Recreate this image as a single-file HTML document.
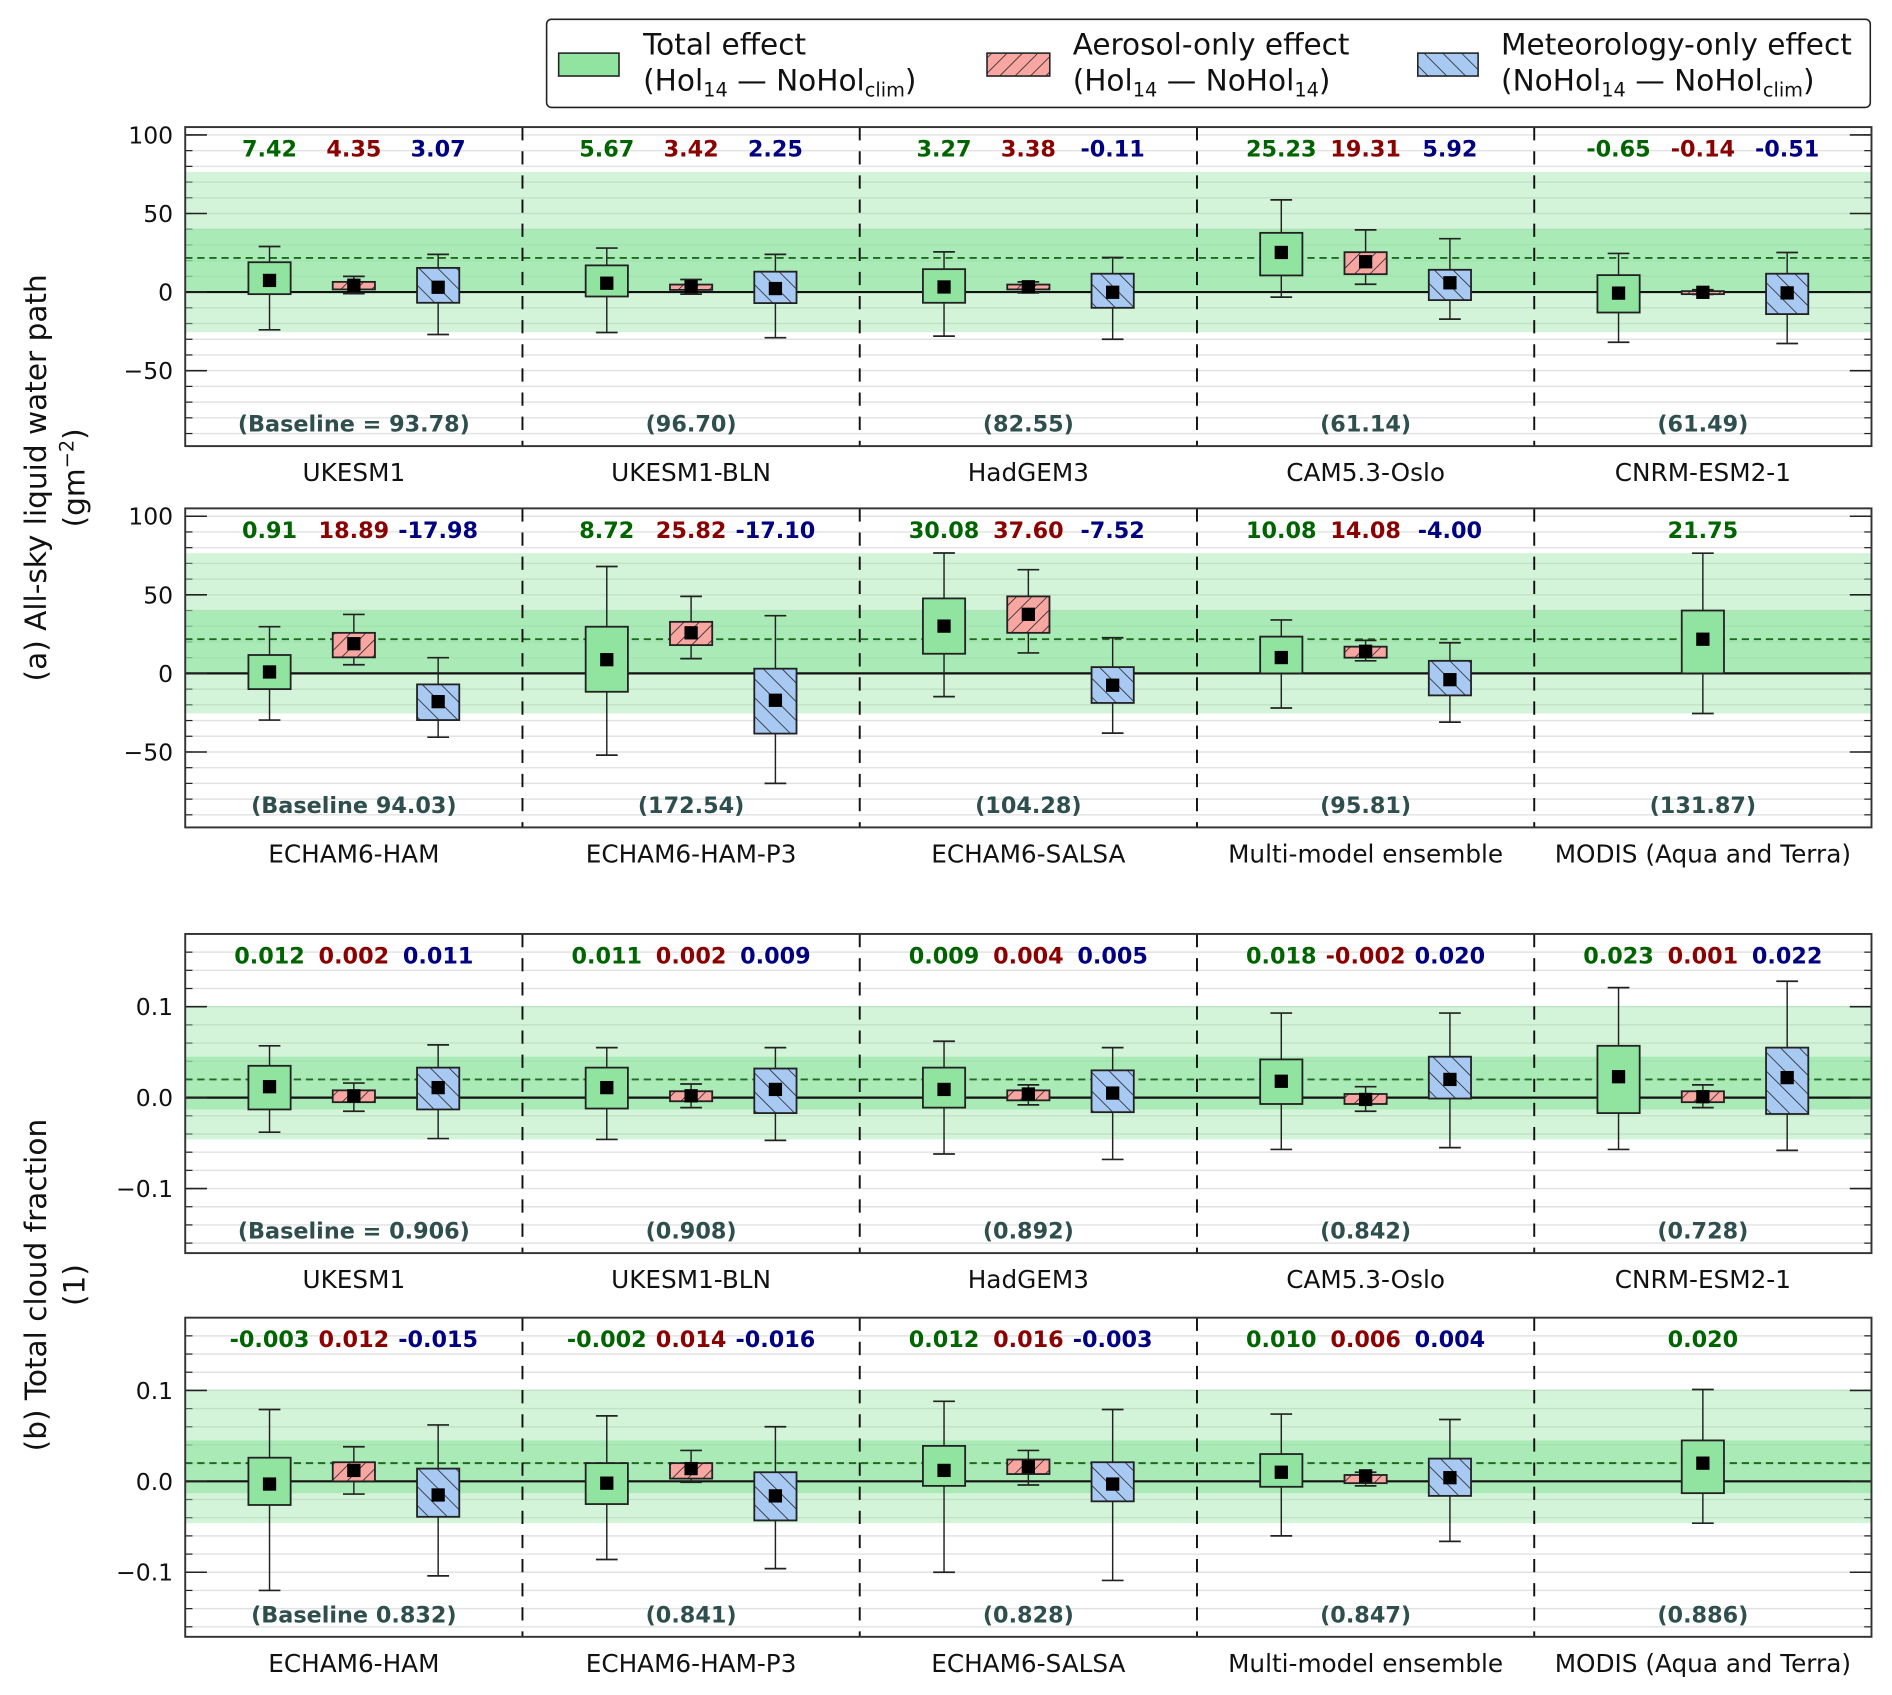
<!DOCTYPE html>
<html><head><meta charset="utf-8"><style>
html,body{margin:0;padding:0;background:#fff;}
svg{display:block;font-family:"DejaVu Sans","Liberation Sans",sans-serif;}
</style></head><body>
<svg id="chart" xmlns="http://www.w3.org/2000/svg" width="1892" height="1695" viewBox="0 0 1568 1404.7">
<defs>
<pattern id="hatchRed" patternUnits="userSpaceOnUse" width="9" height="9" patternTransform="rotate(45)">
<rect width="9" height="9" fill="#f7a6a1"/><line x1="0" y1="0" x2="0" y2="9" stroke="#222" stroke-width="1.3"/></pattern>
<pattern id="hatchBlue" patternUnits="userSpaceOnUse" width="11" height="11" patternTransform="rotate(-45)">
<rect width="11" height="11" fill="#a7c9f2"/><line x1="0" y1="0" x2="0" y2="11" stroke="#222" stroke-width="1.3"/></pattern>
</defs>
<g id="legend">
<rect x="453" y="16" width="1097" height="73" rx="4" fill="#fff" stroke="#222" stroke-width="1.3"/>
<rect x="463" y="44" width="50" height="19" fill="#90e4a0" stroke="#222" stroke-width="1.3"/>
<text x="533" y="45" font-size="24.5" fill="#111">Total effect</text>
<text x="533" y="75" font-size="24.5" fill="#111">(Hol<tspan font-size="16" dy="5">14</tspan><tspan dy="-5"> — NoHol</tspan><tspan font-size="16" dy="5">clim</tspan><tspan dy="-5">)</tspan></text>
<rect x="818" y="44" width="52" height="19" fill="url(#hatchRed)" stroke="#222" stroke-width="1.3"/>
<text x="889" y="45" font-size="24.5" fill="#111">Aerosol-only effect</text>
<text x="889" y="75" font-size="24.5" fill="#111">(Hol<tspan font-size="16" dy="5">14</tspan><tspan dy="-5"> — NoHol</tspan><tspan font-size="16" dy="5">14</tspan><tspan dy="-5">)</tspan></text>
<rect x="1175" y="44" width="50" height="19" fill="url(#hatchBlue)" stroke="#222" stroke-width="1.3"/>
<text x="1244" y="45" font-size="24.5" fill="#111">Meteorology-only effect</text>
<text x="1244" y="75" font-size="24.5" fill="#111">(NoHol<tspan font-size="16" dy="5">14</tspan><tspan dy="-5"> — NoHol</tspan><tspan font-size="16" dy="5">clim</tspan><tspan dy="-5">)</tspan></text>
</g>
<text transform="translate(38,396) rotate(-90)" text-anchor="middle" font-size="24.5" fill="#111">(a) All-sky liquid water path</text>
<text transform="translate(70,396) rotate(-90)" text-anchor="middle" font-size="24.5" fill="#111">(gm<tspan font-size="16" dy="-9">−2</tspan><tspan dy="9">)</tspan></text>
<text transform="translate(38,1065) rotate(-90)" text-anchor="middle" font-size="24.5" fill="#111">(b) Total cloud fraction</text>
<text transform="translate(70,1065) rotate(-90)" text-anchor="middle" font-size="24.5" fill="#111">(1)</text>
</svg>
<script>
// ---- data ----
const groupsTop = ['UKESM1','UKESM1-BLN','HadGEM3','CAM5.3-Oslo','CNRM-ESM2-1'];
const groupsBottom = ['ECHAM6-HAM','ECHAM6-HAM-P3','ECHAM6-SALSA','Multi-model ensemble','MODIS (Aqua and Terra)'];
const baselineA1 = ['(Baseline = 93.78)','(96.70)','(82.55)','(61.14)','(61.49)'];
const baselineA2 = ['(Baseline 94.03)','(172.54)','(104.28)','(95.81)','(131.87)'];
const baselineB1 = ['(Baseline = 0.906)','(0.908)','(0.892)','(0.842)','(0.728)'];
const baselineB2 = ['(Baseline 0.832)','(0.841)','(0.828)','(0.847)','(0.886)'];
// per column: [total, aerosol, meteorology]
const a1Mean = [7.42,4.35,3.07, 5.67,3.42,2.25, 3.27,3.38,-0.11, 25.23,19.31,5.92, -0.65,-0.14,-0.51];
const a1Q1   = [-1.3,1.7,-6.8, -2.8,1.4,-7, -6.8,1.7,-10, 10.6,11.4,-5.1, -13,-1.3,-14];
const a1Q3   = [19,6.5,15.4, 17,4.8,13, 14.6,4.8,11.7, 37.7,25.4,14.2, 10.8,0.6,11.7];
const a1Lo   = [-24,-1,-27, -25.7,-1.3,-29, -28,-0.5,-30, -3.2,5,-17.2, -31.9,-1.5,-32.7];
const a1Hi   = [29,10,24, 28,8,24, 25.6,6.5,22, 58.7,39.6,34, 24.6,1.5,25.2];
const a2Mean = [0.91,18.89,-17.98, 8.72,25.82,-17.10, 30.08,37.60,-7.52, 10.08,14.08,-4.00, 21.75,null,null];
const a2Q1   = [-10,10.2,-29.7, -11.7,18,-38.3, 12.5,25.8,-18.8, 0,10,-14, 0,null,null];
const a2Q3   = [11.7,25.8,-7, 29.7,32.8,3, 47.7,49,4, 23.4,17,8, 40,null,null];
const a2Lo   = [-29.7,5.5,-40.6, -52,9.4,-70, -14.8,13,-38, -22,8,-31, -25.5,null,null];
const a2Hi   = [29.7,37.5,10, 68,49,36.7, 76.6,66,22.7, 34,21,19.5, 76.5,null,null];
const b1Mean = [0.012,0.002,0.011, 0.011,0.002,0.009, 0.009,0.004,0.005, 0.018,-0.002,0.020, 0.023,0.001,0.022];
const b1Q1   = [-0.013,-0.005,-0.013, -0.012,-0.004,-0.017, -0.011,-0.003,-0.016, -0.007,-0.007,-0.001, -0.017,-0.005,-0.018];
const b1Q3   = [0.035,0.008,0.033, 0.033,0.007,0.032, 0.033,0.008,0.030, 0.042,0.004,0.045, 0.057,0.007,0.055];
const b1Lo   = [-0.038,-0.015,-0.045, -0.046,-0.011,-0.047, -0.062,-0.008,-0.068, -0.057,-0.015,-0.055, -0.057,-0.011,-0.058];
const b1Hi   = [0.057,0.016,0.058, 0.055,0.015,0.055, 0.062,0.014,0.055, 0.093,0.012,0.093, 0.121,0.014,0.128];
const b2Mean = [-0.003,0.012,-0.015, -0.002,0.014,-0.016, 0.012,0.016,-0.003, 0.010,0.006,0.004, 0.020,null,null];
const b2Q1   = [-0.026,0,-0.039, -0.025,0.003,-0.043, -0.005,0.008,-0.022, -0.006,-0.002,-0.016, -0.013,null,null];
const b2Q3   = [0.026,0.021,0.014, 0.020,0.020,0.010, 0.039,0.024,0.021, 0.030,0.007,0.025, 0.045,null,null];
const b2Lo   = [-0.12,-0.014,-0.104, -0.086,-0.001,-0.096, -0.10,-0.004,-0.109, -0.060,-0.005,-0.066, -0.046,null,null];
const b2Hi   = [0.079,0.038,0.062, 0.072,0.034,0.060, 0.088,0.034,0.079, 0.074,0.010,0.068, 0.101,null,null];
const ticksA = [-50,0,50,100];
const ticksB = [-0.1,0.0,0.1];
const tickLabelsA = ['−50','0','50','100'];
const tickLabelsB = ['−0.1','0.0','0.1'];

// ---- drawing ----
const NS='http://www.w3.org/2000/svg';
const svg=document.getElementById('chart');
function mk(tag,attrs,parent){const e=document.createElementNS(NS,tag);for(const k in attrs)e.setAttribute(k,attrs[k]);(parent||svg).appendChild(e);return e;}
const X0=153.5,X1=1551,CW=(X1-X0)/5;
const fills=['#90e4a0','url(#hatchRed)','url(#hatchBlue)'];
const valColors=['#006400','#8b0000','#000080'];
const modisIdx=12;

function panel(name,top,bot,vmax,vmin,groups,baselines,mean,q1,q3,lo,hi,ticks,tickLabels,minorStep,minorFrom,dec,bandSrc){
  const g=mk('g',{});
  
  
  const y=v=>top+(vmax-v)/(vmax-vmin)*(bot-top);
  for(let v=minorFrom;v<vmax-1e-9;v+=minorStep){
    const yy=y(v);
    const gl=mk('line',{x1:X0,x2:X1,y1:yy,y2:yy,stroke:'#e2e2e2','stroke-width':1.2},g);
    
    
    mk('line',{x1:X0,x2:X0+6,y1:yy,y2:yy,stroke:'#222','stroke-width':1},g);
    mk('line',{x1:X1-6,x2:X1,y1:yy,y2:yy,stroke:'#222','stroke-width':1},g);
  }
  const bm=bandSrc;
  const b1=mk('rect',{x:X0,width:X1-X0,y:y(bm.hi[modisIdx]),height:y(bm.lo[modisIdx])-y(bm.hi[modisIdx]),fill:'rgba(144,228,160,0.4)'},g);
  
  
  const b2=mk('rect',{x:X0,width:X1-X0,y:y(bm.q3[modisIdx]),height:y(bm.q1[modisIdx])-y(bm.q3[modisIdx]),fill:'rgba(144,228,160,0.62)'},g);
  
  
  const dl=mk('line',{x1:X0,x2:X1,y1:y(bm.mean[modisIdx]),y2:y(bm.mean[modisIdx]),stroke:'#1e6b1e','stroke-width':1.6,'stroke-dasharray':'6,4'},g);
  
  
  const zl=mk('line',{x1:X0,x2:X1,y1:y(0),y2:y(0),stroke:'#111','stroke-width':1.8},g);
  
  
  for(let c=1;c<5;c++){
    const d=mk('line',{x1:X0+c*CW,x2:X0+c*CW,y1:top,y2:bot,stroke:'#111','stroke-width':1.6,'stroke-dasharray':'11,9'},g);
    
    
  }
  for(let c=0;c<5;c++){
    for(let s=0;s<3;s++){
      const i=c*3+s;
      if(mean[i]===null)continue;
      const cx= (c===4&&mean[c*3+1]===null) ? X0+c*CW+CW*0.5 : X0+c*CW+CW*(0.25+0.25*s);
      const bw=35,cap=18;
      const wl=mk('line',{x1:cx,x2:cx,y1:y(hi[i]),y2:y(lo[i]),stroke:'#222','stroke-width':1.2},g);
      
      
      mk('line',{x1:cx-cap/2,x2:cx+cap/2,y1:y(hi[i]),y2:y(hi[i]),stroke:'#222','stroke-width':1.4},g);
      mk('line',{x1:cx-cap/2,x2:cx+cap/2,y1:y(lo[i]),y2:y(lo[i]),stroke:'#222','stroke-width':1.4},g);
      const bx=mk('rect',{x:cx-bw/2,width:bw,y:y(q3[i]),height:Math.max(1,y(q1[i])-y(q3[i])),fill:fills[s],stroke:'#222','stroke-width':1.5},g);
      
      
      const mm=mk('rect',{x:cx-5.5,y:y(mean[i])-5.5,width:11,height:11,fill:'#000'},g);
      
      
      const t=mk('text',{x:cx,y:top+24.5,'text-anchor':'middle','font-size':18.5,'font-weight':'bold',fill:valColors[s]},g);
      t.textContent=mean[i].toFixed(dec);
      
      
    }
    const bl=mk('text',{x:X0+c*CW+CW*0.5,y:bot-12,'text-anchor':'middle','font-size':18.5,'font-weight':'bold',fill:'#2f4f4f'},g);
    bl.textContent=baselines[c];
    
    
    const gl=mk('text',{x:X0+c*CW+CW*0.5,y:bot+29,'text-anchor':'middle','font-size':20.5,fill:'#111'},g);
    gl.textContent=groups[c];
    
    
  }
  ticks.forEach((v,k)=>{
    const yy=y(v);
    mk('line',{x1:X0,x2:X0+18,y1:yy,y2:yy,stroke:'#222','stroke-width':1.3},g);
    mk('line',{x1:X1-18,x2:X1,y1:yy,y2:yy,stroke:'#222','stroke-width':1.3},g);
    const t=mk('text',{x:X0-10,y:yy+7,'text-anchor':'end','font-size':19.5,fill:'#111'},g);
    t.textContent=tickLabels[k];
    
    
  });
  const fr=mk('rect',{x:X0,y:top,width:X1-X0,height:bot-top,fill:'none',stroke:'#333','stroke-width':1.6},g);
  
  
}
const bandA={mean:a2Mean,q1:a2Q1,q3:a2Q3,lo:a2Lo,hi:a2Hi};
const bandB={mean:b2Mean,q1:b2Q1,q3:b2Q3,lo:b2Lo,hi:b2Hi};
panel('panel-a-top',105.3,369.7,105,-98,groupsTop,baselineA1,a1Mean,a1Q1,a1Q3,a1Lo,a1Hi,ticksA,tickLabelsA,10,-90,2,bandA);
panel('panel-a-bottom',421.3,685.7,105,-98,groupsBottom,baselineA2,a2Mean,a2Q1,a2Q3,a2Lo,a2Hi,ticksA,tickLabelsA,10,-90,2,bandA);
panel('panel-b-top',774,1038.5,0.18,-0.171,groupsTop,baselineB1,b1Mean,b1Q1,b1Q3,b1Lo,b1Hi,ticksB,tickLabelsB,0.02,-0.16,3,bandB);
panel('panel-b-bottom',1092,1356.5,0.18,-0.171,groupsBottom,baselineB2,b2Mean,b2Q1,b2Q3,b2Lo,b2Hi,ticksB,tickLabelsB,0.02,-0.16,3,bandB);
</script>
</body></html>
